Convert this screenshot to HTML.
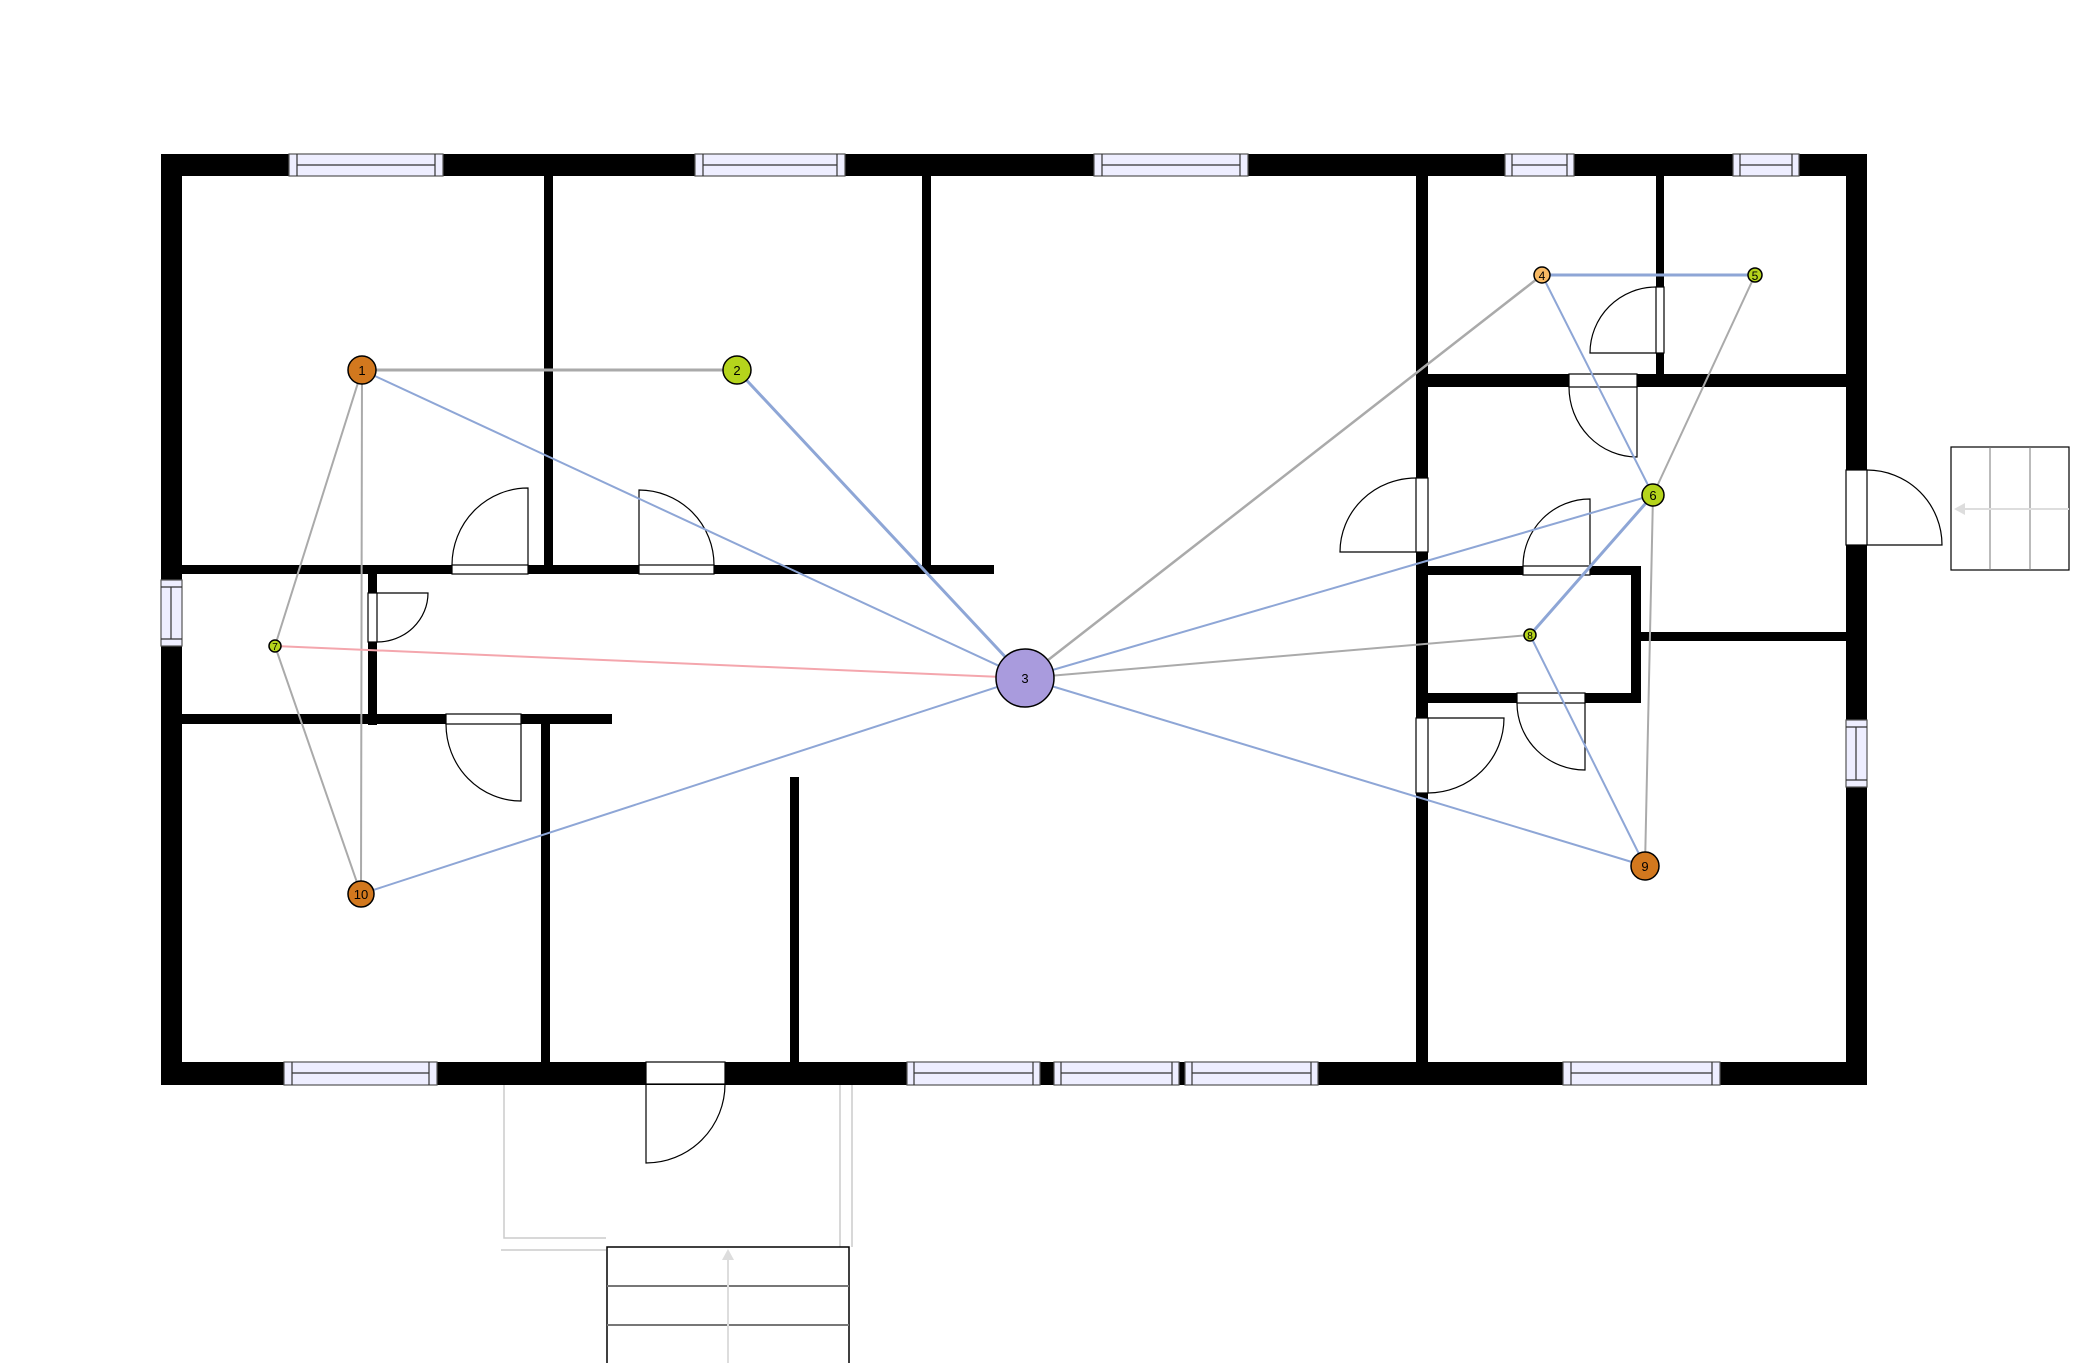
<!DOCTYPE html>
<html><head><meta charset="utf-8"><style>html,body{margin:0;padding:0;background:#fff}svg{display:block}</style></head>
<body>
<svg width="2094" height="1363" viewBox="0 0 2094 1363" xmlns="http://www.w3.org/2000/svg" font-family="Liberation Sans, sans-serif">
<rect width="2094" height="1363" fill="#fff"/>
<!-- stairs bottom -->
<g fill="none" stroke="#ccc" stroke-width="1.5">
<polyline points="504,1084 504,1238 606,1238"/>
<line x1="840" y1="1084" x2="840" y2="1247"/>
<line x1="852" y1="1084" x2="852" y2="1247"/>
<line x1="501" y1="1250" x2="606" y2="1250"/>
</g>
<rect x="607" y="1247" width="242" height="130" fill="none" stroke="#000" stroke-width="1.5"/>
<line x1="607" y1="1286" x2="849" y2="1286" stroke="#777" stroke-width="2"/>
<line x1="607" y1="1325" x2="849" y2="1325" stroke="#777" stroke-width="2"/>
<line x1="728" y1="1363" x2="728" y2="1260" stroke="#ddd" stroke-width="2"/>
<polygon points="728,1249 722,1260 734,1260" fill="#ddd"/>
<!-- stairs right -->
<rect x="1951" y="447" width="118" height="123" fill="none" stroke="#000" stroke-width="1.2"/>
<line x1="1990" y1="447" x2="1990" y2="570" stroke="#777"/>
<line x1="2030" y1="447" x2="2030" y2="570" stroke="#777"/>
<line x1="2069" y1="509" x2="1965" y2="509" stroke="#ddd" stroke-width="2"/>
<polygon points="1954,509 1965,503 1965,515" fill="#ddd"/>
<!-- walls -->
<g fill="#000">
<rect x="161" y="154" width="1706" height="22"/>
<rect x="161" y="1062" width="1706" height="23"/>
<rect x="161" y="154" width="21" height="931"/>
<rect x="1846" y="154" width="21" height="931"/>
<rect x="544" y="176" width="9" height="398"/>
<rect x="922" y="176" width="9" height="398"/>
<rect x="181" y="565" width="813" height="9"/>
<rect x="368" y="574" width="9" height="151"/>
<rect x="181" y="714" width="431" height="10"/>
<rect x="541" y="724" width="9" height="340"/>
<rect x="790" y="777" width="9" height="287"/>
<rect x="1416" y="176" width="12" height="888"/>
<rect x="1656" y="176" width="8" height="211"/>
<rect x="1416" y="374" width="432" height="13"/>
<rect x="1416" y="566" width="225" height="9"/>
<rect x="1631" y="566" width="10" height="137"/>
<rect x="1416" y="693" width="225" height="10"/>
<rect x="1641" y="632" width="207" height="9"/>
</g>
<!-- windows -->
<g fill="#eeeeff" stroke="#555" stroke-width="1.2">
<rect x="289" y="154" width="154" height="22"/><rect x="695" y="154" width="150" height="22"/><rect x="1094" y="154" width="154" height="22"/><rect x="1505" y="154" width="69" height="22"/><rect x="1733" y="154" width="66" height="22"/>
<rect x="284" y="1062" width="153" height="23"/><rect x="907" y="1062" width="133" height="23"/><rect x="1054" y="1062" width="125" height="23"/><rect x="1185" y="1062" width="133" height="23"/><rect x="1563" y="1062" width="157" height="23"/>
<rect x="161" y="580" width="21" height="66"/><rect x="1846" y="720" width="21" height="67"/>
</g>
<g stroke="#333" stroke-width="1.2">
<path d="M297,154V176M435,154V176M297,165H435"/>
<path d="M703,154V176M837,154V176M703,165H837"/>
<path d="M1102,154V176M1240,154V176M1102,165H1240"/>
<path d="M1512,154V176M1567,154V176M1512,165H1567"/>
<path d="M1740,154V176M1792,154V176M1740,165H1792"/>
<path d="M292,1062V1085M429,1062V1085M292,1073H429"/>
<path d="M914,1062V1085M1033,1062V1085M914,1073H1033"/>
<path d="M1061,1062V1085M1172,1062V1085M1061,1073H1172"/>
<path d="M1192,1062V1085M1311,1062V1085M1192,1073H1311"/>
<path d="M1571,1062V1085M1712,1062V1085M1571,1073H1712"/>
<path d="M161,587H182M161,639H182M171,587V639"/>
<path d="M1846,727H1867M1846,780H1867M1856,727V780"/>
</g>
<!-- doors -->
<g fill="#fff" stroke="#000" stroke-width="1.2">
<rect x="452" y="565" width="76" height="9"/><rect x="639" y="565" width="75" height="9"/>
<rect x="368" y="593" width="9" height="49"/><rect x="446" y="714" width="75" height="10"/>
<rect x="646" y="1062" width="79" height="22"/>
<rect x="1656" y="287" width="8" height="66"/><rect x="1569" y="374" width="68" height="13"/>
<rect x="1416" y="478" width="12" height="74"/><rect x="1523" y="566" width="67" height="9"/>
<rect x="1517" y="693" width="68" height="10"/><rect x="1416" y="718" width="12" height="75"/>
<rect x="1846" y="470" width="21" height="75"/>
</g>
<g fill="none" stroke="#000" stroke-width="1.2">
<path d="M528,565 V488 A76,77 0 0 0 452,565"/>
<path d="M639,565 V490 A75,75 0 0 1 714,565"/>
<path d="M377,593 H428 A51,49 0 0 1 377,642"/>
<path d="M521,724 V801 A75,77 0 0 1 446,724"/>
<path d="M646,1084 V1163 A79,79 0 0 0 725,1084"/>
<path d="M1656,353 H1590 A66,66 0 0 1 1656,287"/>
<path d="M1637,387 V457 A68,70 0 0 1 1569,387"/>
<path d="M1416,552 H1340 A76,74 0 0 1 1416,478"/>
<path d="M1590,566 V499 A67,67 0 0 0 1523,566"/>
<path d="M1585,703 V770 A68,67 0 0 1 1517,703"/>
<path d="M1428,718 H1504 A76,75 0 0 1 1428,793"/>
<path d="M1867,470 A75,75 0 0 1 1942,545 H1867"/>
</g>
<!-- edges -->
<g fill="none" stroke-linecap="round">
<line x1="362" y1="370" x2="737" y2="370" stroke="#aaa" stroke-width="3"/>
<line x1="362" y1="370" x2="275" y2="646" stroke="#aaa" stroke-width="2"/>
<line x1="362" y1="370" x2="361" y2="894" stroke="#aaa" stroke-width="2"/>
<line x1="275" y1="646" x2="361" y2="894" stroke="#aaa" stroke-width="2"/>
<line x1="1025" y1="678" x2="1542" y2="275" stroke="#aaa" stroke-width="2.5"/>
<line x1="1025" y1="678" x2="1530" y2="635" stroke="#aaa" stroke-width="2"/>
<line x1="1755" y1="275" x2="1653" y2="495" stroke="#aaa" stroke-width="2"/>
<line x1="1653" y1="495" x2="1645" y2="866" stroke="#aaa" stroke-width="2"/>
<line x1="362" y1="370" x2="1025" y2="678" stroke="#8ea6d6" stroke-width="2"/>
<line x1="737" y1="370" x2="1025" y2="678" stroke="#8ea6d6" stroke-width="3"/>
<line x1="361" y1="894" x2="1025" y2="678" stroke="#8ea6d6" stroke-width="2"/>
<line x1="1025" y1="678" x2="1653" y2="495" stroke="#8ea6d6" stroke-width="2"/>
<line x1="1025" y1="678" x2="1645" y2="866" stroke="#8ea6d6" stroke-width="2"/>
<line x1="1542" y1="275" x2="1755" y2="275" stroke="#8ea6d6" stroke-width="3"/>
<line x1="1542" y1="275" x2="1653" y2="495" stroke="#8ea6d6" stroke-width="2"/>
<line x1="1653" y1="495" x2="1530" y2="635" stroke="#8ea6d6" stroke-width="3"/>
<line x1="1530" y1="635" x2="1645" y2="866" stroke="#8ea6d6" stroke-width="2"/>
<line x1="275" y1="646" x2="1025" y2="678" stroke="#f4a6ad" stroke-width="2"/>
</g>
<!-- nodes -->
<g stroke="#000" stroke-width="1.5" font-size="13" text-anchor="middle">
<circle cx="362" cy="370" r="14" fill="#d2781e"/><text x="362" y="375" stroke="none">1</text>
<circle cx="737" cy="370" r="14" fill="#b5d41c"/><text x="737" y="375" stroke="none">2</text>
<circle cx="1025" cy="678" r="29" fill="#a99bdd"/><text x="1025" y="683" stroke="none">3</text>
<circle cx="1542" cy="275" r="8" fill="#f7b964"/><text x="1542" y="280" stroke="none" font-size="12">4</text>
<circle cx="1755" cy="275" r="7" fill="#b5d41c"/><text x="1755" y="280" stroke="none" font-size="12">5</text>
<circle cx="1653" cy="495" r="11" fill="#b5d41c"/><text x="1653" y="500" stroke="none">6</text>
<circle cx="275" cy="646" r="6" fill="#b5d41c"/><text x="275" y="650" stroke="none" font-size="10">7</text>
<circle cx="1530" cy="635" r="6" fill="#b5d41c"/><text x="1530" y="639" stroke="none" font-size="10">8</text>
<circle cx="1645" cy="866" r="14" fill="#d2781e"/><text x="1645" y="871" stroke="none">9</text>
<circle cx="361" cy="894" r="13" fill="#d2781e"/><text x="361" y="899" stroke="none">10</text>
</g>
</svg>
</body></html>
